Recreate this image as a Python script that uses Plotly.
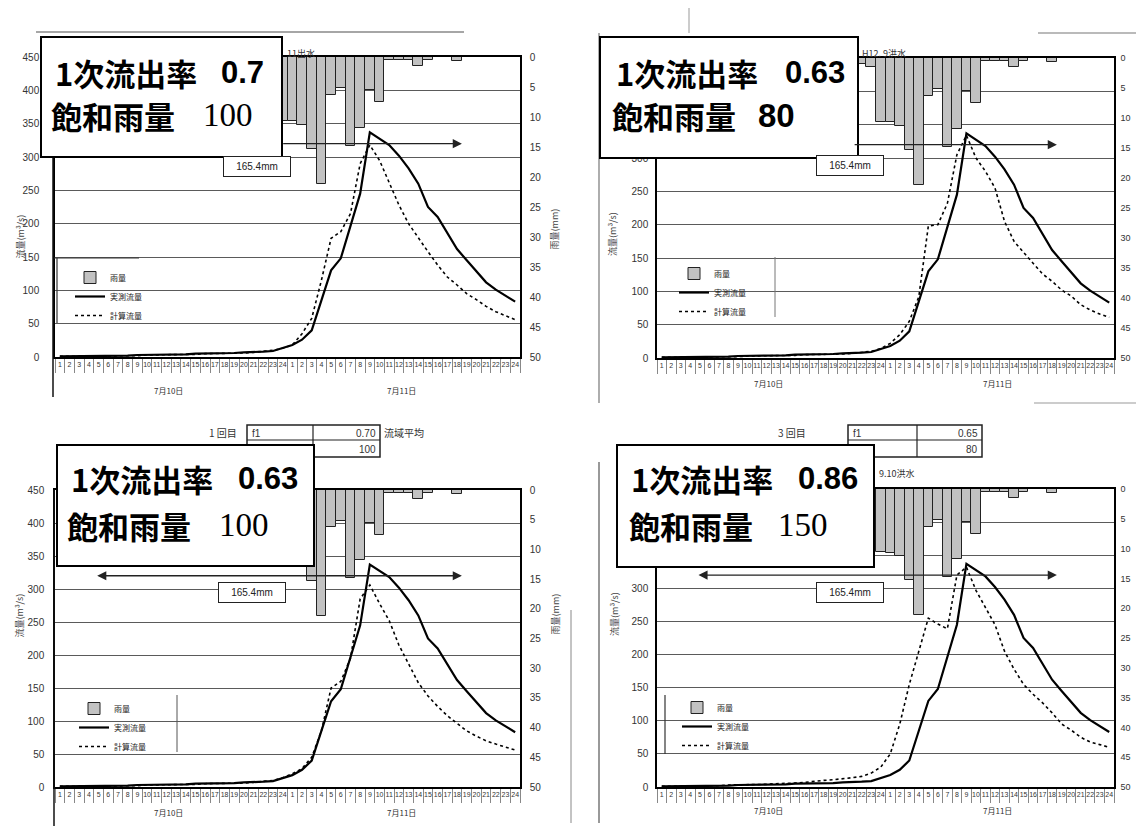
import plotly.graph_objects as go
from plotly.subplots import make_subplots

W, H = 1136, 826

# ---------------- data ----------------
hours = list(range(1, 49))
hour_labels = [str(i) for i in range(1, 25)] * 2
day_labels = ["7月10日", "7月11日"]
day_centers = [12.2, 36.3]

rain_mm = [0, 0, 0, 0, 1, 2, 3, 4, 3, 2, 3, 4, 3, 2, 2, 3, 2, 1.5, 1, 1, 1, 1, 1.5,
           10.6, 10.7, 11.3, 15.3, 21.2, 6.3, 5.2, 14.8, 11.8, 5.5, 7.5, 0.5, 0.5, 0.5,
           1.5, 0.5, 0, 0, 0.6, 0, 0, 0, 0, 0, 0]

obs_flow = [1, 1, 1, 1, 1, 2, 2, 2, 3, 3, 3, 4, 4, 4, 5, 5, 5, 6, 6, 7, 7, 8, 9, 13,
            18, 26, 40, 85, 130, 148, 195, 245, 337, 328, 318, 302, 283, 260, 225, 210,
            185, 162, 145, 128, 112, 101, 92, 83]

calc_flow_tl = [1, 1, 1, 1, 1, 1, 2, 2, 2, 3, 3, 3, 4, 4, 4, 5, 5, 5, 6, 6, 7, 8, 10, 13,
                18, 35, 58, 115, 178, 188, 215, 290, 318, 295, 262, 228, 200, 178, 158, 138,
                120, 108, 95, 86, 76, 68, 62, 56]
calc_flow_tr = [1, 1, 1, 1, 1, 1, 2, 2, 2, 3, 3, 3, 4, 4, 4, 5, 5, 5, 6, 6, 7, 8, 10, 14,
                22, 35, 55, 92, 198, 200, 232, 305, 334, 300, 280, 255, 205, 175, 158, 142,
                126, 115, 102, 93, 80, 72, 66, 61]
calc_flow_bl = [1, 1, 1, 1, 1, 1, 2, 2, 2, 3, 3, 3, 4, 4, 4, 5, 5, 5, 6, 6, 7, 8, 10, 14,
                20, 28, 45, 85, 150, 160, 195, 285, 306, 278, 252, 215, 187, 158, 138, 122,
                108, 97, 85, 77, 70, 65, 60, 56]
calc_flow_br = [1, 1, 1, 2, 2, 2, 2, 3, 3, 3, 4, 4, 5, 5, 6, 7, 9, 10, 11, 12, 14, 16, 21, 30,
                50, 95, 155, 205, 255, 246, 239, 320, 332, 297, 272, 245, 205, 178, 155, 140,
                127, 112, 95, 86, 75, 68, 64, 60]

calc_flows = [calc_flow_tl, calc_flow_tr, calc_flow_bl, calc_flow_br]
panel_f1 = ["0.7", "0.63", "0.63", "0.86"]
panel_rsa = ["100", "80", "100", "150"]
f1_label = "1次流出率"
rsa_label = "飽和雨量"
total_rain_label = "165.4mm"
legend_names = ["雨量", "実測流量", "計算流量"]
left_title = "流量(m³/s)"
right_title = "雨量(mm)"
flow_ticks = list(range(0, 451, 50))
rain_ticks = list(range(0, 51, 5))
panel_titles = ["11出水", "H12. 9洪水", "", "9.10洪水"]
run_tables = [("1 回目", "f1", "0.70", "100", "流域平均"), ("3 回目", "f1", "0.65", "80", "")]


def px(x):
    return x / W


def py(y):
    return 1 - y / H


# ---------------- layout geometry (pixels) ----------------
panels = [
    dict(x0=55, x1=520, ytop=57, ybot=357, standoff=12, hide_above=None, rstand=6, rsize=10),
    dict(x0=657, x1=1114, ytop=58, ybot=358, standoff=5, hide_above=300, rstand=3, rsize=9),
    dict(x0=55, x1=520, ytop=490, ybot=787, standoff=7, hide_above=None, rstand=6, rsize=10),
    dict(x0=657, x1=1114, ytop=489, ybot=787, standoff=5, hide_above=300, rstand=3, rsize=9),
]

fig = make_subplots(rows=2, cols=2,
                    specs=[[{"secondary_y": True}, {"secondary_y": True}],
                           [{"secondary_y": True}, {"secondary_y": True}]])

rc = [(1, 1), (1, 2), (2, 1), (2, 2)]
for i, (r, c) in enumerate(rc):
    lg = "legend" if i == 0 else f"legend{i + 1}"
    fig.add_trace(go.Bar(x=hours, y=rain_mm, name=legend_names[0], width=1.0,
                         marker=dict(color="#c2c2c2", line=dict(color="#222", width=1)),
                         legend=lg), row=r, col=c, secondary_y=True)
    fig.add_trace(go.Scatter(x=hours, y=obs_flow, name=legend_names[1], mode="lines",
                             line=dict(color="black", width=2.2), legend=lg),
                  row=r, col=c, secondary_y=False)
    fig.add_trace(go.Scatter(x=hours, y=calc_flows[i], name=legend_names[2], mode="lines",
                             line=dict(color="black", width=1.6, dash="dot"), legend=lg),
                  row=r, col=c, secondary_y=False)

layout = {}
for i, p in enumerate(panels):
    xa = "xaxis" if i == 0 else f"xaxis{i + 1}"
    ya = "yaxis" if i == 0 else f"yaxis{2 * i + 1}"
    y2 = f"yaxis{2 * i + 2}"
    xd = [px(p["x0"]), px(p["x1"])]
    yd = [py(p["ybot"]), py(p["ytop"])]
    if p["hide_above"] is None:
        ftext = [str(v) for v in flow_ticks]
    else:
        ftext = [str(v) if v <= p["hide_above"] else "" for v in flow_ticks]
    layout[xa] = dict(domain=xd, range=[0.5, 48.5], tickmode="array", tickvals=hours,
                      ticktext=hour_labels, tickangle=0,
                      tickfont=dict(family="Liberation Sans Narrow, Liberation Sans", size=7,
                                    color="#333"),
                      ticks="", showline=True, linecolor="black", linewidth=1.5, mirror=True,
                      showgrid=False, zeroline=False, automargin=False,
                      minor=dict(ticks="outside", tickmode="linear", tick0=0.5, dtick=1,
                                 ticklen=14, tickcolor="#888", tickwidth=1, showgrid=False))
    layout[ya] = dict(domain=yd, range=[0, 450], tickmode="array", tickvals=flow_ticks,
                      ticktext=ftext,
                      tickfont=dict(family="Liberation Sans", size=10, color="#333"),
                      ticklabelstandoff=p["standoff"],
                      showgrid=True, gridcolor="#5a5a5a", gridwidth=1.2, zeroline=False,
                      showline=True, linecolor="black", linewidth=1.5, ticks="",
                      automargin=False)
    layout[y2] = dict(domain=yd, range=[50, 0], tickmode="array", tickvals=rain_ticks,
                      tickfont=dict(family="Liberation Sans", size=p["rsize"], color="#333"),
                      side="right", ticklabelstandoff=p["rstand"],
                      showgrid=False, zeroline=False, showline=True, linecolor="black",
                      linewidth=1.5, ticks="", automargin=False)

fig.update_layout(**layout)

# legends
legend_pos = [(70, 263), (674, 259), (74, 694), (677, 693)]
leg_layout = {}
for i, (lx, ly) in enumerate(legend_pos):
    key = "legend" if i == 0 else f"legend{i + 1}"
    leg_layout[key] = dict(x=px(lx), y=py(ly), xanchor="left", yanchor="top",
                           bgcolor="rgba(0,0,0,0)", borderwidth=0,
                           font=dict(family="Noto Sans CJK JP", size=8, color="#222"),
                           itemwidth=30, tracegroupgap=0)
fig.update_layout(**leg_layout)

shapes = []
annotations = []

# scan frame artefacts
frame_lines = [
    (53, 37, 53, 397, "#111", 1.5), (36, 32, 464, 32, "#888", 1.5),
    (599, 33, 599, 403, "#777", 1.2), (689, 8, 689, 33, "#999", 1),
    (1038, 33, 1136, 33, "#777", 1.2), (1034, 403, 1136, 403, "#999", 1),
    (54, 490, 54, 826, "#111", 1.5), (599, 462, 599, 823, "#555", 1.2),
    (571, 610, 571, 823, "#888", 1),
    # legend frames
    (57, 258, 57, 323, "#333", 1.2), (54, 258, 139, 258, "#333", 1.2),
    (177, 695, 177, 752, "#555", 1), (775, 257, 775, 317, "#777", 1),
    (665, 695, 665, 754, "#333", 1.2),
]
for x0, y0, x1, y1, col, w in frame_lines:
    shapes.append(dict(type="line", xref="paper", yref="paper", x0=px(x0), y0=py(y0),
                       x1=px(x1), y1=py(y1), line=dict(color=col, width=w), layer="above"))

# per-panel annotations: arrows, rainfall total, day labels
arrow_start = [23.9, 21.1, 4.7, 4.7]
arrow_side = ["end", "end", "end+start", "end+start"]
label_pos = [(21.3, 286), (20.8, 288), (20.8, 295), (20.8, 294)]
day_y_off = [33, 25, 33, 31]
for i, p in enumerate(panels):
    xr = "x" if i == 0 else f"x{i + 1}"
    yr = "y" if i == 0 else f"y{2 * i + 1}"
    annotations.append(dict(x=42.5, y=320, ax=arrow_start[i], ay=320, xref=xr, yref=yr,
                            axref=xr, ayref=yr, text="", showarrow=True, arrowhead=2,
                            arrowside=arrow_side[i], arrowsize=1.3, arrowwidth=1.4,
                            arrowcolor="#222"))
    annotations.append(dict(x=label_pos[i][0], y=label_pos[i][1], xref=xr, yref=yr,
                            text=total_rain_label, showarrow=False, width=62, height=15,
                            font=dict(family="Liberation Sans", size=10, color="#222"),
                            bgcolor="white", bordercolor="#222", borderwidth=1, borderpad=2))
    for dl, dc in zip(day_labels, day_centers):
        annotations.append(dict(x=dc, y=py(p["ybot"] + day_y_off[i]), xref=xr, yref="paper",
                                text=dl, showarrow=False,
                                font=dict(family="Noto Sans CJK JP", size=8, color="#333")))

# axis titles
for (tx, ty) in [(11, 213), (612, 210), (10, 640), (614, 638)]:
    annotations.append(dict(x=px(tx), y=py(ty), xref="paper", yref="paper", text=left_title,
                            textangle=-90, showarrow=False,
                            font=dict(family="Noto Sans CJK JP", size=9, color="#444")))
for (tx, ty) in [(554, 207), (555, 637)]:
    annotations.append(dict(x=px(tx), y=py(ty), xref="paper", yref="paper", text=right_title,
                            textangle=-90, showarrow=False,
                            font=dict(family="Noto Sans CJK JP", size=9, color="#444")))

# partial panel titles
title_pos = [(285, 45), (860, 45), (318, 477), (877, 473)]
for t, (tx, ty) in zip(panel_titles, title_pos):
    if t:
        annotations.append(dict(x=px(tx), y=py(ty), xref="paper", yref="paper", text=t,
                                xanchor="left", showarrow=False,
                                font=dict(family="Noto Sans CJK JP", size=9, color="#333")))

# run tables above bottom panels
table_geo = [dict(lab=207, x0=247, xm=313, x1=380), dict(lab=808, x0=848, xm=917, x1=982)]
for (run, k, f1v, rv, note), g in zip(run_tables, table_geo):
    shapes.append(dict(type="rect", xref="paper", yref="paper", x0=px(g["x0"]), y0=py(457),
                       x1=px(g["x1"]), y1=py(425), line=dict(color="#222", width=1.5),
                       layer="above"))
    shapes.append(dict(type="line", xref="paper", yref="paper", x0=px(g["x0"]), y0=py(440),
                       x1=px(g["x1"]), y1=py(440), line=dict(color="#222", width=1.2),
                       layer="above"))
    shapes.append(dict(type="line", xref="paper", yref="paper", x0=px(g["xm"]), y0=py(425),
                       x1=px(g["xm"]), y1=py(457), line=dict(color="#222", width=1.2),
                       layer="above"))
    tf = dict(family="Liberation Sans", size=10, color="#333")
    annotations.append(dict(x=px(g["lab"]), y=py(432), xref="paper", yref="paper", text=run,
                            showarrow=False,
                            font=dict(family="Noto Sans CJK JP", size=10, color="#333")))
    annotations.append(dict(x=px(g["x0"] + 3), y=py(433), xref="paper", yref="paper", text=k,
                            xanchor="left", showarrow=False, font=tf))
    annotations.append(dict(x=px(g["x1"] - 2), y=py(433), xref="paper", yref="paper", text=f1v,
                            xanchor="right", showarrow=False, font=tf))
    annotations.append(dict(x=px(g["x1"] - 2), y=py(449), xref="paper", yref="paper", text=rv,
                            xanchor="right", showarrow=False, font=tf))
    if note:
        annotations.append(dict(x=px(g["x1"] + 2), y=py(432), xref="paper", yref="paper",
                                text=note, xanchor="left", showarrow=False,
                                font=dict(family="Noto Sans CJK JP", size=10, color="#333")))

# big white parameter boxes
boxes = [(41, 37, 282, 157), (600, 37, 858, 158), (57, 445, 314, 566), (617, 445, 874, 567)]
text_geo = [
    dict(l1=(54, 72), l2=(50, 115), v1=220, v2=202),
    dict(l1=(615, 72), l2=(611, 115), v1=784, v2=757),
    dict(l1=(70, 478), l2=(66, 525), v1=237, v2=218),
    dict(l1=(630, 478), l2=(628, 525), v1=797, v2=777),
]
rsa_fonts = ["Liberation Serif", "Liberation Sans", "Liberation Serif", "Liberation Serif"]
for i, ((x0, y0, x1, y1), g) in enumerate(zip(boxes, text_geo)):
    shapes.append(dict(type="rect", xref="paper", yref="paper", x0=px(x0), y0=py(y1),
                       x1=px(x1), y1=py(y0), fillcolor="white",
                       line=dict(color="black", width=2), layer="above"))
    jf = dict(family="Noto Sans CJK JP", size=31, color="black")
    annotations.append(dict(x=px(g["l1"][0]), y=py(g["l1"][1]), xref="paper", yref="paper",
                            text=f"<b>{f1_label}</b>", xanchor="left", yanchor="middle",
                            showarrow=False, font=jf, borderpad=0))
    annotations.append(dict(x=px(g["l2"][0]), y=py(g["l2"][1]), xref="paper", yref="paper",
                            text=f"<b>{rsa_label}</b>", xanchor="left", yanchor="middle",
                            showarrow=False, font=jf, borderpad=0))
    annotations.append(dict(x=px(g["v1"]), y=py(g["l1"][1]), xref="paper", yref="paper",
                            text=f"<b>{panel_f1[i]}</b>", xanchor="left", yanchor="middle",
                            showarrow=False, borderpad=0,
                            font=dict(family="Liberation Sans", size=31, color="black")))
    rs_text = f"<b>{panel_rsa[i]}</b>" if rsa_fonts[i] == "Liberation Sans" else panel_rsa[i]
    annotations.append(dict(x=px(g["v2"]), y=py(g["l2"][1]), xref="paper", yref="paper",
                            text=rs_text, xanchor="left", yanchor="middle",
                            showarrow=False, borderpad=0,
                            font=dict(family=rsa_fonts[i], size=33, color="black")))

fig.update_layout(
    width=W, height=H, margin=dict(l=0, r=0, t=0, b=0),
    paper_bgcolor="white", plot_bgcolor="white",
    shapes=shapes, annotations=annotations, barmode="overlay", bargap=0,
    showlegend=True, font=dict(family="Noto Sans CJK JP"),
)

fig.write_html("out.html", config={"displayModeBar": False},
               post_script="document.body.style.margin='0px';")
